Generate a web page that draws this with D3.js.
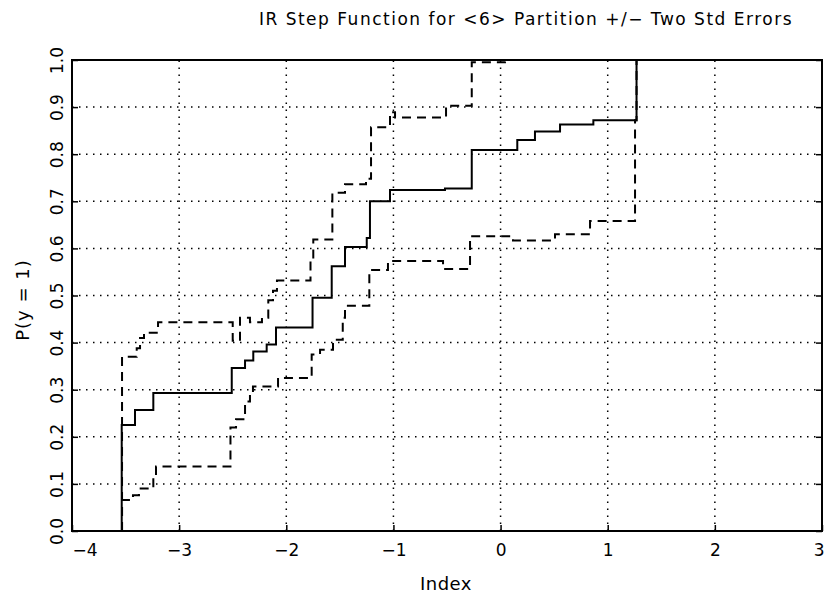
<!DOCTYPE html>
<html><head><meta charset="utf-8">
<script src="https://cdn.jsdelivr.net/npm/d3@7"></script>
<style>
body{margin:0;background:#fff}
svg{display:block}
text{font-family:"DejaVu Sans",sans-serif;fill:#000}
</style></head>
<body><svg id="c" width="824" height="601"></svg>
<script>
// ---- data ----
const titleText = "IR Step Function for <6> Partition +/\u2212 Two Std Errors";
const xLabel = "Index";
const yLabel = "P(y = 1)";
const xTicks = [-4, -3, -2, -1, 0, 1, 2, 3];
const xTickLabels = ["\u22124", "\u22123", "\u22122", "\u22121", "0", "1", "2", "3"];
const yTicks = [0, 0.1, 0.2, 0.3, 0.4, 0.5, 0.6, 0.7, 0.8, 0.9, 1.0];
const yTickLabels = ["0.0", "0.1", "0.2", "0.3", "0.4", "0.5", "0.6", "0.7", "0.8", "0.9", "1.0"];

// step function estimate: jump locations and level after each jump
const estKnots = [-3.536, -3.412, -3.241, -2.509, -2.385, -2.308, -2.183, -2.096, -1.755, -1.576,
                  -1.452, -1.249, -1.219, -1.032, -0.519, -0.269, 0.156, 0.321, 0.555, 0.866, 1.269];
const estLevels = [0.225, 0.257, 0.293, 0.346, 0.362, 0.381, 0.396, 0.432, 0.495, 0.562,
                   0.603, 0.622, 0.700, 0.724, 0.727, 0.809, 0.830, 0.848, 0.863, 0.872, 1.0];

// upper band (+2 SE)
const upKnots = [-3.533, -3.396, -3.365, -3.328, -3.197, -2.500, -2.432, -2.339, -2.227, -2.168,
                 -2.124, -2.087, -1.774, -1.748, -1.570, -1.452, -1.256, -1.209, -1.032, -0.985,
                 -0.509, -0.269, 0.041];
const upLevels = [0.370, 0.388, 0.410, 0.421, 0.443, 0.404, 0.453, 0.443, 0.453, 0.490,
                  0.510, 0.532, 0.575, 0.619, 0.718, 0.736, 0.748, 0.857, 0.889, 0.878,
                  0.903, 0.995, 1.0];

// lower band (-2 SE)
const loKnots = [-3.533, -3.431, -3.375, -3.241, -3.216, -2.521, -2.469, -2.385, -2.339, -2.311,
                 -2.077, -1.763, -1.685, -1.564, -1.473, -1.452, -1.225, -1.051, -0.537, -0.285,
                 0.116, 0.508, 0.835, 1.255, 1.269];
const loLevels = [0.066, 0.076, 0.090, 0.118, 0.137, 0.220, 0.237, 0.275, 0.290, 0.307,
                  0.325, 0.375, 0.385, 0.406, 0.453, 0.478, 0.554, 0.573, 0.556, 0.626,
                  0.617, 0.630, 0.658, 0.872, 1.0];

// ---- chart ----
const svg = d3.select("#c");
const L = 72, R = 822, T = 60, B = 531;
const x = d3.scaleLinear().domain([-4, 3]).range([L, R]);
const y = d3.scaleLinear().domain([0, 1]).range([B, T]);

svg.append("defs").append("clipPath").attr("id", "clip")
  .append("rect").attr("x", L).attr("y", T).attr("width", R - L).attr("height", B - T);

// grid
const grid = svg.append("g").attr("stroke", "#000").attr("stroke-width", 1.5)
  .attr("stroke-dasharray", "1.5,5.5").attr("fill", "none");
grid.selectAll("line.v").data(xTicks.slice(1, -1)).join("line")
  .attr("x1", d => x(d)).attr("x2", d => x(d)).attr("y1", B).attr("y2", T);
grid.selectAll("line.h").data(yTicks.slice(1, -1)).join("line")
  .attr("x1", L).attr("x2", R).attr("y1", d => y(d)).attr("y2", d => y(d));

// step curves
function stepPts(knots, levels) {
  const pts = [[knots[0], 0]];
  knots.forEach((k, i) => pts.push([k, levels[i]]));
  pts.push([3, levels[levels.length - 1]]);
  return pts;
}
const line = d3.line().x(d => x(d[0])).y(d => y(d[1])).curve(d3.curveStepAfter);
const plot = svg.append("g").attr("clip-path", "url(#clip)");
plot.append("path").attr("d", line(stepPts(upKnots, upLevels)))
  .attr("fill", "none").attr("stroke", "#000").attr("stroke-width", 2).attr("stroke-dasharray", "9,6");
plot.append("path").attr("d", line(stepPts(loKnots, loLevels)))
  .attr("fill", "none").attr("stroke", "#000").attr("stroke-width", 2).attr("stroke-dasharray", "9,6");
plot.append("path").attr("d", line(stepPts(estKnots, estLevels)))
  .attr("fill", "none").attr("stroke", "#000").attr("stroke-width", 2);

// axes
const nX = xTicks.length;
const xAxis = svg.append("g").attr("transform", `translate(0,${B})`)
  .call(d3.axisBottom(x).tickValues(xTicks).tickSize(-6).tickFormat((d, i) => xTickLabels[i]));
xAxis.select(".domain").remove();
xAxis.selectAll("line").attr("stroke-width", 1.5);
xAxis.selectAll("text").attr("y", 25).attr("dy", null).attr("font-size", 17)
  .attr("font-family", "DejaVu Sans").attr("fill", "#000")
  .attr("x", (d, i) => i === nX - 1 ? 2 : 0)
  .attr("text-anchor", (d, i) => i === 0 ? "start" : (i === nX - 1 ? "end" : "middle"));

const yAxis = svg.append("g").attr("transform", `translate(${L},0)`)
  .call(d3.axisLeft(y).tickValues(yTicks).tickSize(-6).tickFormat((d, i) => yTickLabels[i]));
yAxis.select(".domain").remove();
yAxis.selectAll("line").attr("stroke-width", 1.5);
yAxis.selectAll("text").attr("x", null).attr("dy", null)
  .attr("transform", "translate(-9,0) rotate(-90)").attr("text-anchor", "middle")
  .attr("font-size", 17).attr("font-family", "DejaVu Sans").attr("fill", "#000");

const yAxisR = svg.append("g").attr("transform", `translate(${R},0)`)
  .call(d3.axisRight(y).tickValues(yTicks).tickSize(-6).tickFormat(""));
yAxisR.select(".domain").remove();
yAxisR.selectAll("line").attr("stroke-width", 1.5);

// frame
svg.append("rect").attr("x", L).attr("y", T).attr("width", R - L).attr("height", B - T)
  .attr("fill", "none").attr("stroke", "#000").attr("stroke-width", 2);

// labels
svg.append("text").attr("x", 526).attr("y", 25).attr("text-anchor", "middle")
  .attr("font-size", 17).attr("letter-spacing", 1.5).text(titleText);
svg.append("text").attr("x", 446).attr("y", 590).attr("text-anchor", "middle")
  .attr("font-size", 18).attr("letter-spacing", 0.5).text(xLabel);
svg.append("text").attr("transform", "translate(29,300) rotate(-90)").attr("text-anchor", "middle")
  .attr("font-size", 18).attr("letter-spacing", 1).text(yLabel);
</script></body></html>
